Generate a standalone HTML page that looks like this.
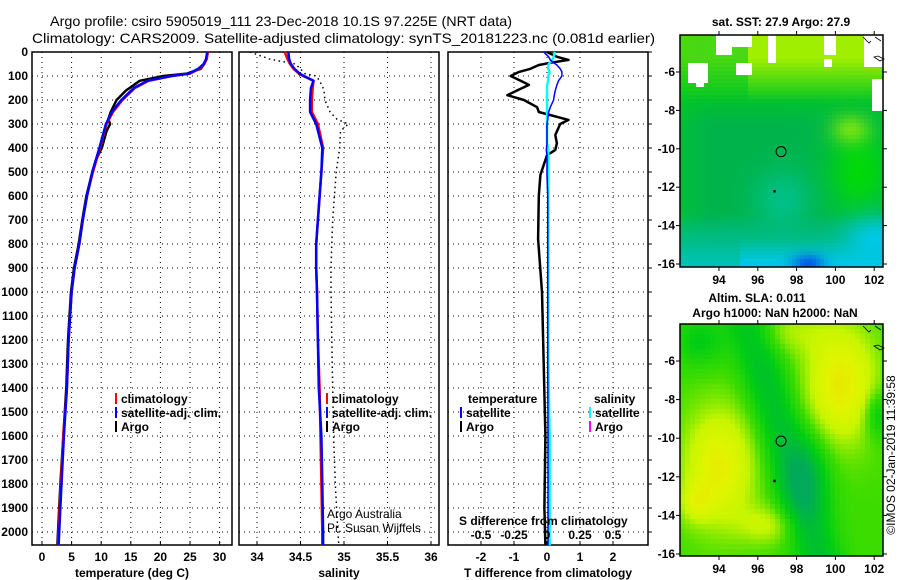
<!DOCTYPE html>
<html><head><meta charset="utf-8"><style>
html,body{margin:0;padding:0;background:#fff;}
svg{display:block;font-family:"Liberation Sans",sans-serif;}
.tk{font-size:12px;font-weight:bold;}
.lg{font-size:12px;font-weight:bold;}
</style></head><body>
<svg id="c" width="900" height="580" viewBox="0 0 900 580" xmlns="http://www.w3.org/2000/svg">
<text x="50" y="26" font-size="14" textLength="462" lengthAdjust="spacingAndGlyphs">Argo profile: csiro 5905019_111 23-Dec-2018 10.1S 97.225E (NRT data)</text>
<text x="32" y="43" font-size="14" textLength="623" lengthAdjust="spacingAndGlyphs">Climatology: CARS2009. Satellite-adjusted climatology: synTS_20181223.nc (0.081d earlier)</text>
<g id="maps"></g>
<g id="plots"></g>
</svg>
<script>
// ---- data ----
const depthTicks=[0,100,200,300,400,500,600,700,800,900,1000,1100,1200,1300,1400,1500,1600,1700,1800,1900,2000];
const tempTicks=[0,5,10,15,20,25,30];
const salTicks=[34,34.5,35,35.5,36];
const tdiffTicks=[-2,-1,0,1,2];
const sdiffTicks=[-0.5,-0.25,0,0.25,0.5];
const climDepth=[0,30,50,70,90,100,120,150,200,250,300,400,500,600,700,800,900,1000,1200,1400,1600,1800,2000,2055];
const climTemp=[28,27.8,27.4,26.6,25,22,18,15.7,13.6,12,10.9,9.8,8.6,7.6,6.9,6.3,5.5,5.0,4.5,4.2,3.6,3.2,2.8,2.7];
const satTemp=[27.9,27.7,27.3,26.4,24.8,21.8,17.8,15.5,13.4,11.8,10.8,9.7,8.5,7.6,6.9,6.3,5.5,5.0,4.5,4.2,3.7,3.3,2.9,2.8];
const argoDepth=[0,30,50,70,90,100,120,150,160,200,250,280,300,330,400,450,500,600,700,800,900,1000,1200,1400,1600,1800,2000,2055];
const argoTemp=[28,27.8,27.4,26.8,24.5,20.5,16.5,14.8,14.2,12.6,11.6,11.2,11.5,10.9,10.1,9.1,8.5,7.5,6.8,6.2,5.4,4.9,4.4,4.1,3.6,3.1,2.7,2.6];
const climSal=[34.32,34.35,34.38,34.42,34.48,34.53,34.65,34.64,34.63,34.63,34.70,34.76,34.74,34.72,34.70,34.68,34.68,34.69,34.70,34.72,34.73,34.74,34.75,34.75];
const satSal=[34.36,34.37,34.39,34.43,34.49,34.54,34.65,34.62,34.61,34.61,34.68,34.75,34.74,34.72,34.70,34.68,34.68,34.69,34.70,34.71,34.74,34.75,34.76,34.76];
const argoSal=[33.92,34.15,34.44,34.50,34.55,34.68,34.72,34.76,34.77,34.78,34.84,34.92,35.05,34.96,34.95,34.93,34.91,34.89,34.87,34.86,34.85,34.85,34.86,34.87,34.88,34.90,34.93,34.94];
const diffDepth=[0,20,33,45,54,70,83,100,120,137,160,180,200,230,250,283,300,346,380,408,430,512,600,780,1000,1300,1600,1900,2055];
const argoTdiff=[0,0.3,0.65,0.1,-0.25,-0.5,-0.85,-1.1,-0.8,-0.55,-0.9,-1.2,-0.7,-0.3,-0.25,0.65,0.4,0.25,0.3,0.25,0,-0.2,-0.25,-0.27,-0.15,-0.1,-0.05,-0.08,-0.05];
const satTdiff=[-0.1,0.05,0.1,0.2,0.3,0.4,0.45,0.45,0.35,0.3,0.25,0.22,0.2,0.1,0.05,0.02,0,0,0,-0.02,0,0,0.02,0.02,0.02,0.02,0.03,0.03,0.03];
const satSdiff=[0.06,0.05,0.04,0.02,0.01,0.01,0.02,0.01,0.01,0,0,0,0,0,0,0,0,0,0,0.01,0.01,0.01,0.01,0.01,0.01,0.01,0.02,0.02,0.02];
// ---- layout ----
const NS='http://www.w3.org/2000/svg';
const TOP=52,BOT=545;
const yD=d=>TOP+d*0.24;
const xT=t=>42+t*5.92;
const xS=s=>257+(s-34)*87;
const xTD=v=>547+v*33;
const xSD=v=>547+v*132;
const plots=document.getElementById('plots');
function mk(tag,attrs,parent){const e=document.createElementNS(NS,tag);for(const k in attrs)e.setAttribute(k,attrs[k]);(parent||plots).appendChild(e);return e;}
function txt(x,y,s,cls,anchor,parent){const e=mk('text',{x:x,y:y,class:cls||'tk','text-anchor':anchor||'middle'},parent);e.textContent=s;return e;}
function panel(name,L,R,xt,xf,title){
  const g=mk('g',{});
  
  
  depthTicks.forEach(d=>{const l=mk('line',{x1:L,x2:R,y1:yD(d),y2:yD(d),stroke:'#000','stroke-width':1,'stroke-dasharray':'1 4'},g);
    });
  xt.forEach(v=>{const x=xf(v);const l=mk('line',{x1:x,x2:x,y1:TOP,y2:BOT,stroke:'#000','stroke-width':1,'stroke-dasharray':'1 4'},g);
    
    mk('line',{x1:x,x2:x,y1:BOT,y2:BOT-4,stroke:'#000'},g);
    const t=txt(x,561,String(v),'tk','middle',g);});
  const r=mk('rect',{x:L,y:TOP,width:R-L,height:BOT-TOP,fill:'none',stroke:'#000','stroke-width':1.5},g);
  
  const t=txt((L+R)/2,577,title,'tk','middle',g);
  
  return g;
}
function line(xs,ds,xf,color,w,dash,name){
  const p=xs.map((v,i)=>xf(v).toFixed(1)+','+yD(ds[i]).toFixed(1)).join(' ');
  const e=mk('polyline',{points:p,fill:'none',stroke:color,'stroke-width':w,'stroke-dasharray':dash||'none','stroke-linejoin':'round'});
  
  
}
depthTicks.forEach(d=>{const t=txt(28,yD(d)+4,String(d),'tk','end');});
panel('temperature-panel',32,232,tempTicks,xT,'temperature (deg C)');
panel('salinity-panel',239,439,salTicks,xS,'salinity');
panel('difference-panel',448,648,tdiffTicks,xTD,'T difference from climatology');
depthTicks.forEach(d=>mk('line',{x1:648,x2:652,y1:yD(d),y2:yD(d),stroke:'#000'}));
line(argoTemp,argoDepth,xT,'#000',2.5,null,'argo-temperature-line');
line(climTemp,climDepth,xT,'#f00',2.5,null,'climatology-temperature-line');
line(satTemp,climDepth,xT,'#00f',2.5,null,'satellite-temperature-line');
line(argoSal,argoDepth,xS,'#000',1.5,'1.5 3.5','argo-salinity-line');
line(climSal,climDepth,xS,'#f00',2.5,null,'climatology-salinity-line');
line(satSal,climDepth,xS,'#00f',2.5,null,'satellite-salinity-line');
line(argoTdiff,diffDepth,xTD,'#000',2.5,null,'argo-tdiff-line');
line(satSdiff,diffDepth,xSD,'#0ff',2.5,null,'satellite-sdiff-line');
line(satTdiff,diffDepth,xTD,'#00f',1.5,null,'satellite-tdiff-line');
sdiffTicks.forEach(v=>{const t=txt(xSD(v),539,String(v),'tk','middle');});
{const t=txt(459,525,'S difference from climatology','tk','start');}
function leg(x,y,color,label,name){
  const g=mk('g',{});
  
  
  mk('line',{x1:x,x2:x,y1:y-10,y2:y+1,stroke:color,'stroke-width':2},g);
  txt(x+5,y,label,'lg','start',g);
}
leg(116,403,'#f00','climatology','legend-temp-climatology');
leg(116,417,'#00f','satellite-adj. clim.','legend-temp-satellite');
leg(116,431,'#000','Argo','legend-temp-argo');
leg(327,403,'#f00','climatology','legend-sal-climatology');
leg(327,417,'#00f','satellite-adj. clim.','legend-sal-satellite');
leg(327,431,'#000','Argo','legend-sal-argo');
{const t=txt(468,403,'temperature','lg','start');}
{const t=txt(594,403,'salinity','lg','start');}
leg(461,417,'#00f','satellite','legend-tdiff-satellite');
leg(461,431,'#000','Argo','legend-tdiff-argo');
leg(590,417,'#0ff','satellite','legend-sdiff-satellite');
leg(590,431,'#f0f','Argo','legend-sdiff-argo');
{const t=mk('text',{x:327,y:518,'font-size':12,'text-anchor':'start'});t.textContent='Argo Australia';}
{const t=mk('text',{x:327,y:532,'font-size':12,'text-anchor':'start'});t.textContent='Pr. Susan Wijffels';}

// ---- maps ----
const lonTicks=[94,96,98,100,102];
const latTicks=[-6,-8,-10,-12,-14,-16];
const maps=document.getElementById('maps');
const ML=680,MR=883;
const xLon=l=>719+(l-94)*19.4;
const clamp=v=>Math.max(0,Math.min(1,v));
function mix(a,b,t){t=clamp(t);return a.map((v,i)=>v+(b[i]-v)*t);}
function gs(lon,lat,a,b,sx,sy){return Math.exp(-((lon-a)**2)/(sx*sx)-((lat-b)**2)/(sy*sy));}
function sstColor(lon,lat){
  let c=[0,180,75];
  c=mix(c,[0,200,45],clamp((93.5-lon)/2)*0.7);
  c=mix(c,[0,222,0],gs(lon,lat,101.2,-11.2,1.6,2.3)*0.9);
  c=mix(c,[0,205,20],clamp((lat+8.8)/1.8)*0.7);
  c=mix(c,[160,238,0],clamp((lat+7.6)/2.3)*(lon>95.5?1:0.45));
  c=mix(c,[160,238,10],gs(lon,lat,100.8,-9,1,0.8)*0.7);
  c=mix(c,[0,195,150],gs(lon,lat,97.3,-12.7,1.5,1.6)*0.8);
  c=mix(c,[0,188,140],clamp((-13.3-lat)/1.2)*0.8);
  c=mix(c,[0,200,230],clamp((-14.6-lat)/1.3)*(lon>95?1:0.5));
  c=mix(c,[0,200,230],gs(lon,lat,102,-14.8,1.5,1.3));
  c=mix(c,[0,90,230],gs(lon,lat,98.6,-16,0.8,0.5));
  return c.map(Math.round);
}
function slaColor(lon,lat){
  let v=0.5+0.4*gs(lon,lat,94,-11.5,1.8,3)+0.2*gs(lon,lat,92.8,-13.3,0.8,1)+0.42*gs(lon,lat,100.3,-7.2,1.8,3)+0.15*gs(lon,lat,97.5,-4.5,2,1.2)+0.2*gs(lon,lat,96.5,-14.5,1.5,1);
  const d=(lon-(95.5+(-4-lat)*0.3));
  v-=0.3*Math.exp(-d*d/1.5);
  v-=0.3*gs(lon,lat,98.5,-12,1.2,2.2);
  v-=0.2*gs(lon,lat,93,-5,1.3,1.3);
  v-=0.25*gs(lon,lat,102.2,-8.8,0.7,1.2);
  const stops=[[0,[0,170,90]],[0.3,[0,205,20]],[0.5,[60,220,0]],[0.7,[200,245,0]],[0.85,[225,245,0]],[1,[240,220,0]]];
  v=clamp(v);
  for(let i=1;i<stops.length;i++)if(v<=stops[i][0]){return mix(stops[i-1][1],stops[i][1],(v-stops[i-1][0])/(stops[i][0]-stops[i-1][0])).map(Math.round);}
  return stops[stops.length-1][1];
}
function drawMap(name,T,B,lat0,pxPerLat,colorFn,cell,white){
  const g=document.createElementNS(NS,'g');maps.appendChild(g);
  
  
  const yLat=l=>lat0+(-6-l)*pxPerLat;
  for(let y=T;y<B;y+=cell)for(let x=ML;x<MR;x+=cell){
    const lon=94+(x+cell/2-719)/19.4, lat=-6-(y+cell/2-lat0)/pxPerLat;
    let c=colorFn(lon,lat);
    let isW=white&&white.some(w=>lon>w[0]&&lon<w[1]&&lat>w[2]&&lat<w[3]);
    mk('rect',{x:x,y:y,width:Math.min(cell,MR-x),height:Math.min(cell,B-y),fill:isW?'#fff':'rgb('+c.join(',')+')'},g);
  }
  mk('circle',{cx:xLon(97.2),cy:yLat(-10.15),r:5,fill:'none',stroke:'#000','stroke-width':1},g);
  mk('rect',{x:xLon(96.8),y:yLat(-12.15),width:2.5,height:2.5,fill:'#000'},g);
  mk('path',{d:`M${MR-20} ${T+2} l6 6 l2 -2 M${MR-8} ${T+2} l6 4 M${MR-9} ${T+22} l6 4 l4 -2 l-6 -3z`,fill:'none',stroke:'#000','stroke-width':0.8},g);
  mk('rect',{x:ML,y:T,width:MR-ML,height:B-T,fill:'none',stroke:'#000','stroke-width':1.5},g);
  lonTicks.forEach(l=>{const x=xLon(l);mk('line',{x1:x,x2:x,y1:T,y2:T-4,stroke:'#000'},g);mk('line',{x1:x,x2:x,y1:B,y2:B+4,stroke:'#000'},g);
    const t=txt(x,B+17,String(l),'tk','middle',g);});
  latTicks.forEach(l=>{const y=yLat(l);mk('line',{x1:ML,x2:ML-4,y1:y,y2:y,stroke:'#000'},g);mk('line',{x1:MR,x2:MR+4,y1:y,y2:y,stroke:'#000'},g);
    const t=txt(675,y+4,String(l),'tk','end',g);});
}
drawMap('sst-map',35,267,72,19.2,sstColor,4,[[93.8,94.6,-5.2,-4],[94.6,95.8,-4.6,-4],[94.9,95.8,-6.2,-5.5],[92.5,93.5,-6.6,-5.6],[96.5,97,-5.5,-4],[99.4,100,-5.2,-4],[101.5,102.5,-5.8,-4],[101.8,102.5,-8,-6.4],[92.9,93.3,-6.8,-6.5],[99.4,99.9,-5.8,-5.3]]);
drawMap('sla-map',324,556,361,19.3,slaColor,5,null);
{const t=txt(781,26,'sat. SST: 27.9 Argo: 27.9','tk','middle');}
{const t=txt(757,302,'Altim. SLA: 0.011','tk','middle');}
{const t=txt(775,317,'Argo h1000: NaN h2000: NaN','tk','middle');}
{const t=mk('text',{x:0,y:0,'font-size':12,'text-anchor':'middle',transform:'translate(895,455) rotate(-90)'});t.textContent='©IMOS 02-Jan-2019 11:39:58';}
</script>
</body></html>
